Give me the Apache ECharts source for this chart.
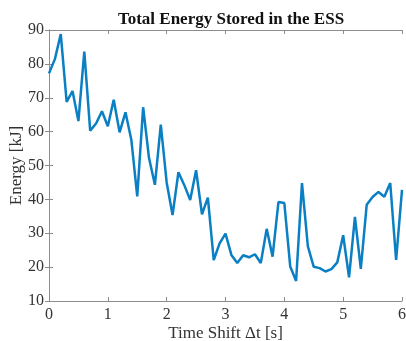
<!DOCTYPE html>
<html>
<head>
<meta charset="utf-8">
<script src="https://cdn.jsdelivr.net/npm/echarts@6/dist/echarts.min.js"></script>
<style>
html,body{margin:0;padding:0;background:#fff;}
#c{width:406px;height:341px;}
</style>
</head>
<body>
<div id="c"></div>
<script>
const timeShift = [0,0.1,0.2,0.3,0.4,0.5,0.6,0.7,0.8,0.9,1.0,1.1,1.2,1.3,1.4,1.5,1.6,1.7,1.8,1.9,2.0,2.1,2.2,2.3,2.4,2.5,2.6,2.7,2.8,2.9,3.0,3.1,3.2,3.3,3.4,3.5,3.6,3.7,3.8,3.9,4.0,4.1,4.2,4.3,4.4,4.5,4.6,4.7,4.8,4.9,5.0,5.1,5.2,5.3,5.4,5.5,5.6,5.7,5.8,5.9,6.0];
const energy = [77.2,81.4,88.8,68.8,72.0,63.1,83.6,60.3,62.4,66.0,61.6,69.4,59.8,65.7,57.5,40.9,67.2,52.2,44.3,62.1,45.0,35.4,48.0,44.2,39.8,48.6,35.6,40.5,22.1,27.0,29.9,23.6,21.2,23.5,22.9,23.8,21.2,31.3,23.1,39.2,38.9,20.2,15.9,44.8,26.1,20.1,19.7,18.7,19.4,21.4,29.4,17.0,34.8,19.5,38.4,40.7,42.2,40.8,44.8,22.1,42.8];
const xTicks = [0,1,2,3,4,5,6];
const yTicks = [10,20,30,40,50,60,70,80,90];

const data = timeShift.map((t,i)=>[t, energy[i]]);
const font = "'Liberation Serif','Times New Roman',serif";
const axisCol = '#8c8c8c';
const labCol = '#333333';

const chart = echarts.init(document.getElementById('c'));
chart.setOption({
  animation:false,
  backgroundColor:'#fff',
  title:{
    text:'Total Energy Stored in the ESS',
    left:226, top:6, textAlign:'center',
    textStyle:{fontFamily:font,fontSize:17,fontWeight:'bold',color:'#111'}
  },
  grid:{left:49,right:4,top:30,bottom:40,containLabel:false,outerBoundsMode:'none'},
  xAxis:[{
    type:'value',min:xTicks[0],max:xTicks[xTicks.length-1],interval:1,
    name:'Time Shift \u0394t [s]',nameLocation:'middle',nameGap:24,nameMoveOverlap:false,
    nameTextStyle:{fontFamily:font,fontSize:17,color:labCol},
    axisLine:{lineStyle:{color:axisCol,width:1}},
    axisTick:{inside:true,length:4,lineStyle:{color:axisCol}},
    axisLabel:{fontFamily:font,fontSize:16,color:labCol,margin:6},
    splitLine:{show:false}
  },{
    type:'value',position:'top',min:xTicks[0],max:xTicks[xTicks.length-1],interval:1,
    axisLine:{lineStyle:{color:axisCol,width:1}},
    axisTick:{inside:true,length:4,lineStyle:{color:axisCol}},
    axisLabel:{show:false},splitLine:{show:false}
  }],
  yAxis:[{
    type:'value',min:yTicks[0],max:yTicks[yTicks.length-1],interval:10,
    name:'Energy [kJ]',nameLocation:'middle',nameGap:24,nameMoveOverlap:false,
    nameTextStyle:{fontFamily:font,fontSize:17,color:labCol},
    axisLine:{show:true,lineStyle:{color:axisCol,width:1}},
    axisTick:{show:true,inside:true,length:4,lineStyle:{color:axisCol}},
    axisLabel:{fontFamily:font,fontSize:16,color:labCol,margin:5},
    splitLine:{show:false}
  },{
    type:'value',position:'right',min:yTicks[0],max:yTicks[yTicks.length-1],interval:10,
    axisLine:{show:true,lineStyle:{color:axisCol,width:1}},
    axisTick:{show:true,inside:true,length:4,lineStyle:{color:axisCol}},
    axisLabel:{show:false},splitLine:{show:false}
  }],
  series:[{
    type:'line',data:data,xAxisIndex:0,yAxisIndex:0,
    symbol:'none',
    lineStyle:{color:'#0a7fc4',width:2.5},
    clip:true
  }]
});
</script>
</body>
</html>
